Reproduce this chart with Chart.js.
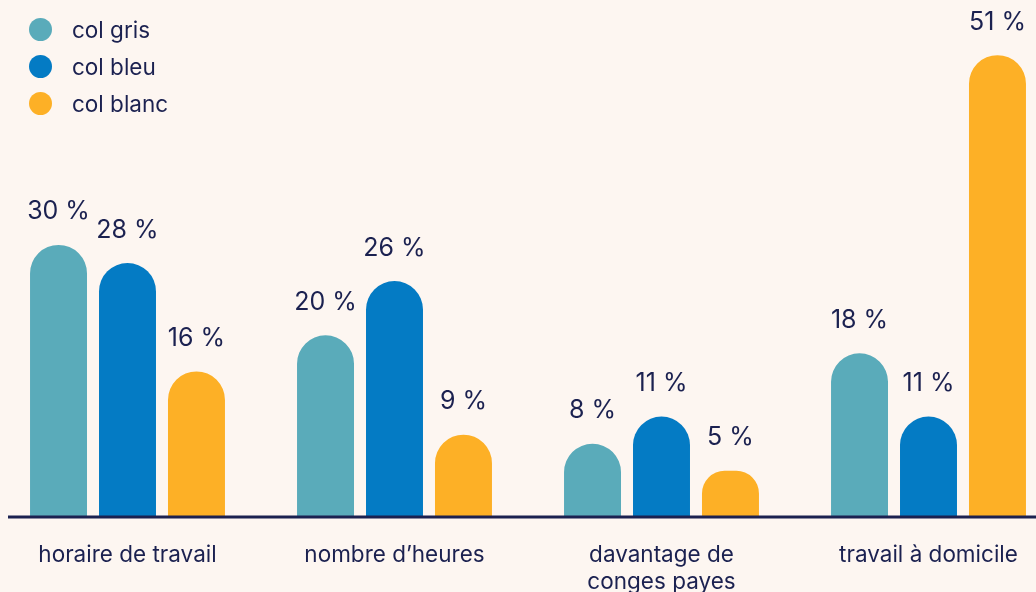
<!DOCTYPE html>
<html>
<head>
<meta charset="utf-8">
<script src="https://cdn.jsdelivr.net/npm/chart.js@4"></script>
<style>
  html, body { margin: 0; padding: 0; background: #fdf6f1; overflow: hidden; }
  #wrap { position: relative; width: 1036px; height: 592px; overflow: hidden; }
  #chart { position: absolute; left: -6px; top: 0; }
  #legend { position: absolute; left: 29px; top: 11px; font-family: Inter, sans-serif; font-size: 22.5px; color: #1b2150; }
  #legend div { height: 37px; display: flex; align-items: center; }
  #legend span.dot { width: 23px; height: 23px; border-radius: 50%; display: inline-block; margin-right: 20px; }
</style>
</head>
<body>
<div id="wrap">
  <canvas id="chart" width="1068" height="592"></canvas>
  <div id="legend"></div>
</div>
<script>
  // data
  const categories = [['horaire de travail'], ["nombre d\u2019heures"], ['davantage de', 'conges payes'], ['travail \u00e0 domicile']];
  const seriesNames = ['col gris', 'col bleu', 'col blanc'];
  const colGris = [30, 20, 8, 18];
  const colBleu = [28, 26, 11, 11];
  const colBlanc = [16, 9, 5, 51];
  const colors = ['#5aabba', '#047bc4', '#fdb026'];
  const navy = '#1b2150';

  // html legend
  const legend = document.getElementById('legend');
  seriesNames.forEach(function(name, i) {
    let row = document.createElement('div');
    let dot = document.createElement('span');
    dot.className = 'dot';
    dot.style.background = colors[i];
    row.appendChild(dot);
    row.appendChild(document.createTextNode(name));
    legend.appendChild(row);
  });

  // value labels above the bars + axis line
  const valueLabels = {
    id: 'valueLabels',
    afterDatasetsDraw(chart) {
      const ctx = chart.ctx;
      ctx.save();
      ctx.fillStyle = navy;
      ctx.font = '25px Inter, sans-serif';
      ctx.textAlign = 'center';
      ctx.textBaseline = 'middle';
      chart.data.datasets.forEach(function(ds, i) {
        chart.getDatasetMeta(i).data.forEach(function(bar, j) {
          ctx.fillText(ds.data[j] + ' %', bar.x, bar.y - 33);
        });
      });
      const y = chart.scales.y.getPixelForValue(0);
      ctx.strokeStyle = navy;
      ctx.lineWidth = 3;
      ctx.beginPath();
      ctx.moveTo(14, y + 1);
      ctx.lineTo(chart.width, y + 1);
      ctx.stroke();
      ctx.restore();
    }
  };

  const barStyle = { borderRadius: { topLeft: 30, topRight: 30 }, borderSkipped: 'bottom' };

  new Chart(document.getElementById('chart'), {
    type: 'bar',
    data: {
      labels: categories,
      datasets: [
        Object.assign({ label: seriesNames[0], data: colGris, backgroundColor: colors[0] }, barStyle),
        Object.assign({ label: seriesNames[1], data: colBleu, backgroundColor: colors[1] }, barStyle),
        Object.assign({ label: seriesNames[2], data: colBlanc, backgroundColor: colors[2] }, barStyle)
      ]
    },
    options: {
      responsive: false,
      animation: false,
      layout: { padding: { top: 10, left: 0, right: 0, bottom: 0 } },
      categoryPercentage: 0.775,
      barPercentage: 0.826,
      plugins: { legend: { display: false }, tooltip: { enabled: false } },
      scales: {
        x: {
          grid: { display: false },
          border: { display: false },
          ticks: { color: navy, font: { family: 'Inter, sans-serif', size: 22.5, lineHeight: 1.2 }, padding: 18, maxRotation: 0 },
          afterFit: function(scale) { scale.height = 76; }
        },
        y: {
          display: false,
          min: 0,
          max: 56
        }
      }
    },
    plugins: [valueLabels]
  });
</script>
</body>
</html>
